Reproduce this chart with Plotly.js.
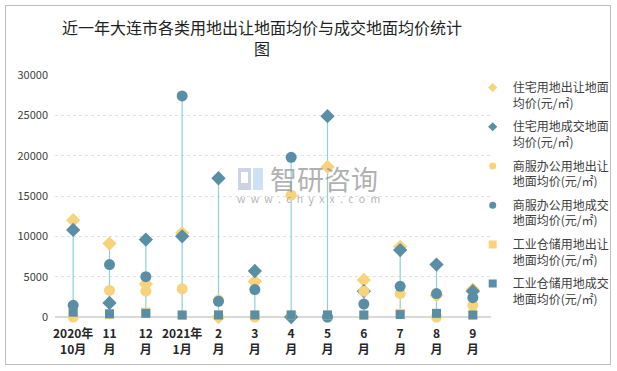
<!DOCTYPE html>
<html>
<head>
<meta charset="utf-8">
<script src="https://cdn.plot.ly/plotly-3.0.1.min.js"></script>
<style>
html,body{margin:0;padding:0;background:#fff;}
#frame{position:absolute;left:5px;top:5px;width:606px;height:360px;border:1px solid #BFBFBF;box-sizing:border-box;}
#chart{position:absolute;left:0;top:0;width:617px;height:371px;}
</style>
</head>
<body>
<div id="frame"></div>
<div id="chart"></div>
<script>
const categories = ["2020年<br>10月","11<br>月","12<br>月","2021年<br>1月","2<br>月","3<br>月","4<br>月","5<br>月","6<br>月","7<br>月","8<br>月","9<br>月"];
const zhuzhaiChurang   = [12000, 9100, 4100, 10400, 0, 4400, 0, 18600, 4600, 8700, 2700, 3400];
const zhuzhaiChengjiao = [10800, 1750, 9600, 10000, 17200, 5700, 0, 24900, 3200, 8300, 6500, 3200];
const shangfuChurang   = [0, 3300, 3200, 3500, 2100, 0, 15100, 0, 3200, 2900, 0, 1450];
const shangfuChengjiao = [1450, 6500, 5000, 27400, 1950, 3400, 19800, 0, 1600, 3800, 2900, 2400];
const gongyeChurang    = [400, 300, 600, 200, 250, 250, 250, 250, 200, 450, 450, 250];
const gongyeChengjiao  = [600, 400, 450, 250, 250, 250, 250, 250, 250, 300, 450, 250];
const seriesNames = ["住宅用地出让地面<br>均价(元/㎡)","住宅用地成交地面<br>均价(元/㎡)","商服办公用地出让<br>地面均价(元/㎡)","商服办公用地成交<br>地面均价(元/㎡)","工业仓储用地出让<br>地面均价(元/㎡)","工业仓储用地成交<br>地面均价(元/㎡)"];
const yTicks = [0, 5000, 10000, 15000, 20000, 25000, 30000];
const titleText = "近一年大连市各类用地出让地面均价与成交地面均价统计<br>图";

const YEL = "#F8D37A", BLU = "#5A8EA4";
const allSeries = [zhuzhaiChurang, zhuzhaiChengjiao, shangfuChurang, shangfuChengjiao, gongyeChurang, gongyeChengjiao];
const styles = [
  {color:YEL, symbol:"diamond", size:11},
  {color:BLU, symbol:"diamond", size:11},
  {color:YEL, symbol:"circle", size:11},
  {color:BLU, symbol:"circle", size:11},
  {color:YEL, symbol:"square", size:9},
  {color:BLU, symbol:"square", size:9}
];
const xIdx = categories.map((c,i)=>i);

// high-low lines
const hlX = [], hlY = [];
xIdx.forEach(i=>{
  const vals = allSeries.map(s=>s[i]);
  hlX.push(i,i,null);
  hlY.push(Math.min(...vals), Math.max(...vals), null);
});

const traces = [{
  x: hlX, y: hlY, mode:"lines", type:"scatter",
  line:{color:"#8ED2CE", width:1.2}, showlegend:false, hoverinfo:"skip", cliponaxis:false
}];
allSeries.forEach((s,k)=>{
  traces.push({
    x: xIdx, y: s, mode:"markers", type:"scatter", name: seriesNames[k],
    marker:{color:styles[k].color, symbol:styles[k].symbol, size:styles[k].size, line:{width:0}},
    showlegend:false, cliponaxis:false
  });
});
allSeries.forEach((s,k)=>{
  traces.push({
    x:[null], y:[null], mode:"markers", type:"scatter", name: seriesNames[k],
    legendgroup:"g"+k,
    marker:{color:styles[k].color, symbol:styles[k].symbol, size:(styles[k].symbol==="square"?8:7)},
    showlegend:true
  });
});

const sp = "\u2002";
const wm = ["w","w","w",".","c","h","y","x","x",".","c","o","m"].join(sp);

const layout = {
  width:617, height:371,
  margin:{l:55, r:126, t:75, b:54, autoexpand:false},
  paper_bgcolor:"rgba(0,0,0,0)", plot_bgcolor:"rgba(0,0,0,0)",
  font:{family:"'Noto Sans CJK SC', 'Noto Sans', sans-serif", color:"#404040", size:11},
  xaxis:{range:[-0.5, 11.5], tickmode:"array", tickvals:xIdx, ticktext:categories,
    showgrid:false, zeroline:false, showline:false, ticks:"", automargin:false, ticklabelstandoff:8,
    tickfont:{size:12, color:"#262626", weight:"bold"}, fixedrange:true},
  yaxis:{range:[0, 30000], tickmode:"array", tickvals:yTicks, ticktext:yTicks.map(String),
    showgrid:true, gridcolor:"#E0E0E0", griddash:"dot", gridwidth:1, automargin:false,
    zeroline:true, zerolinecolor:"#D9D9D9", zerolinewidth:1.5,
    showline:false, ticks:"", ticklabelstandoff:6, tickfont:{size:11, color:"#404040"}, fixedrange:true},
  legend:{x:0.958, xanchor:"left", y:1.007, yanchor:"top", traceorder:"grouped", tracegroupgap:5, valign:"top",
    font:{size:12, color:"#404040"}, itemwidth:30, bgcolor:"rgba(0,0,0,0)", maxheight:320},
  shapes:[
    {type:"rect", xref:"paper", yref:"paper", x0:(238-55)/436, x1:(251-55)/436, y0:(317-190)/242, y1:(317-168)/242,
      fillcolor:"rgba(160,175,205,0.55)", line:{width:0}, layer:"below"},
    {type:"rect", xref:"paper", yref:"paper", x0:(241-55)/436, x1:(248-55)/436, y0:(317-183)/242, y1:(317-172)/242,
      fillcolor:"#ffffff", line:{width:0}, layer:"below"},
    {type:"rect", xref:"paper", yref:"paper", x0:(253-55)/436, x1:(263-55)/436, y0:(317-190)/242, y1:(317-168)/242,
      fillcolor:"rgba(170,205,235,0.6)", line:{width:0}, layer:"below"}
  ],
  annotations:[
    {xref:"paper", yref:"paper", x:0.475, y:1.155, xanchor:"center", yanchor:"middle", text:titleText, showarrow:false,
      font:{family:"'Noto Sans CJK SC', sans-serif", size:16, color:"#222"}},
    {xref:"paper", yref:"paper", x:(324-55)/436, y:(317-178)/242, text:"智研咨询", showarrow:false,
      font:{size:27, color:"rgba(150,150,150,0.75)"}},
    {xref:"paper", yref:"paper", x:(308-55)/436, y:(317-198)/242, text:wm, showarrow:false,
      font:{size:10.5, color:"rgba(160,160,160,0.8)"}}
  ],
  showlegend:true
};
Plotly.newPlot("chart", traces, layout, {displayModeBar:false, staticPlot:true});
</script>
</body>
</html>
